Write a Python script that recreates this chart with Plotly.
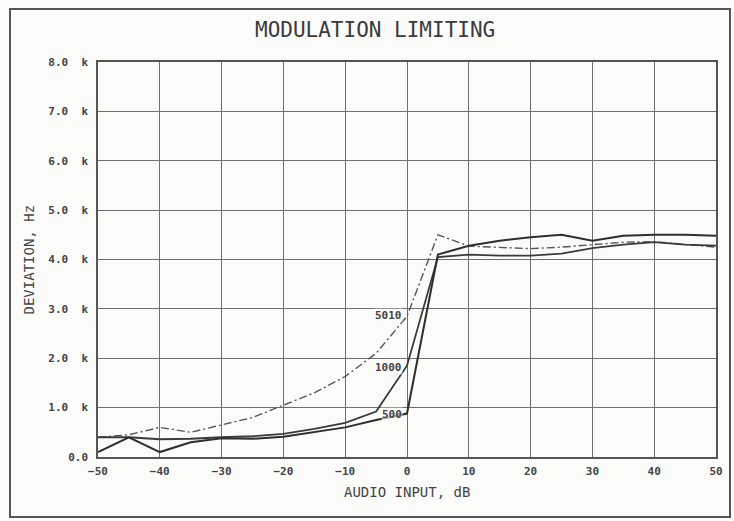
import plotly.graph_objects as go

x_db = [-50, -45, -40, -35, -30, -25, -20, -15, -10, -5, 0, 5, 10, 15, 20, 25, 30, 35, 40, 45, 50]
dev_500 = [0.10, 0.40, 0.10, 0.30, 0.38, 0.37, 0.41, 0.50, 0.60, 0.75, 0.88, 4.10, 4.28, 4.38, 4.45, 4.50, 4.38, 4.48, 4.50, 4.50, 4.48]
dev_1000 = [0.40, 0.40, 0.36, 0.37, 0.40, 0.42, 0.47, 0.57, 0.69, 0.92, 1.85, 4.05, 4.10, 4.08, 4.08, 4.12, 4.23, 4.30, 4.35, 4.30, 4.28]
dev_5010 = [0.40, 0.45, 0.60, 0.50, 0.65, 0.80, 1.05, 1.30, 1.63, 2.10, 2.85, 4.50, 4.27, 4.25, 4.22, 4.25, 4.30, 4.35, 4.36, 4.30, 4.25]

y_tickvals = [0, 1, 2, 3, 4, 5, 6, 7, 8]
y_ticktext = ["0.0", "1.0\u00a0\u00a0k", "2.0\u00a0\u00a0k", "3.0\u00a0\u00a0k", "4.0\u00a0\u00a0k",
              "5.0\u00a0\u00a0k", "6.0\u00a0\u00a0k", "7.0\u00a0\u00a0k", "8.0\u00a0\u00a0k"]
x_tickvals = [-50, -40, -30, -20, -10, 0, 10, 20, 30, 40, 50]

labels = [("5010", -0.7, 2.87), ("1000", -0.7, 1.82), ("500", -0.7, 0.87)]

FONT = "DejaVu Sans Mono"
W, H = 734, 521
ML, MR, MT, MB = 98, 18, 62, 64
PW, PH = W - ML - MR, H - MT - MB


def px_x(px):
    return (px - ML) / PW


def px_y(py):
    return (H - MB - py) / PH


fig = go.Figure()
fig.add_trace(go.Scatter(x=x_db, y=dev_5010, mode="lines",
                         line=dict(color="#555555", width=1.4, dash="8px,3px,2px,3px")))
fig.add_trace(go.Scatter(x=x_db, y=dev_1000, mode="lines",
                         line=dict(color="#3a3a3a", width=1.8)))
fig.add_trace(go.Scatter(x=x_db, y=dev_500, mode="lines",
                         line=dict(color="#2e2e2e", width=2)))

for txt, lx, ly in labels:
    fig.add_annotation(x=lx, y=ly, text="<b>" + txt + "</b>", showarrow=False,
                       xanchor="right", yanchor="middle", bgcolor="rgba(251,251,250,0.6)",
                       borderpad=0,
                       font=dict(family=FONT, size=11, color="#444444"))

fig.add_annotation(x=px_x(375), y=px_y(30), xref="paper", yref="paper", text="MODULATION LIMITING",
                   showarrow=False, font=dict(family=FONT, size=21, color="#3a3a3a"),
                   xanchor="center", yanchor="middle")
fig.add_annotation(x=0.5, y=px_y(492), xref="paper", yref="paper", text="AUDIO INPUT, dB",
                   showarrow=False, font=dict(family=FONT, size=14, color="#444444"),
                   xanchor="center", yanchor="middle")
fig.add_annotation(x=px_x(28), y=0.5, xref="paper", yref="paper", text="DEVIATION, Hz",
                   showarrow=False, textangle=-90, font=dict(family=FONT, size=14, color="#444444"),
                   xanchor="center", yanchor="middle")

fig.add_shape(type="rect", xref="paper", yref="paper",
              x0=px_x(10), x1=px_x(730), y0=px_y(517), y1=px_y(9),
              line=dict(color="#555555", width=2))

tick_font = dict(family=FONT, size=11, color="#444444", weight="bold")

fig.update_layout(
    width=W, height=H,
    margin=dict(l=ML, r=MR, t=MT, b=MB),
    paper_bgcolor="#fbfbfa", plot_bgcolor="#fbfbfa",
    showlegend=False,
    xaxis=dict(range=[-50, 50], tickvals=x_tickvals, ticks="outside", ticklen=3,
               tickcolor="rgba(0,0,0,0)", showgrid=True,
               gridcolor="#6e6e6e", gridwidth=1.2, zeroline=False,
               showline=True, linecolor="#555555", linewidth=1.5, mirror=True,
               tickfont=tick_font),
    yaxis=dict(range=[0, 8], tickvals=y_tickvals, ticktext=y_ticktext, ticks="outside",
               ticklen=6, tickcolor="rgba(0,0,0,0)",
               showgrid=True, gridcolor="#6e6e6e", gridwidth=1.2, zeroline=False,
               showline=True, linecolor="#555555", linewidth=1.5, mirror=True,
               tickfont=tick_font),
)

fig.write_html("out.html", config={"displayModeBar": False},
               post_script="document.body.style.margin='0';document.body.style.padding='0';"
                           "document.body.style.background='#fbfbfa';")
